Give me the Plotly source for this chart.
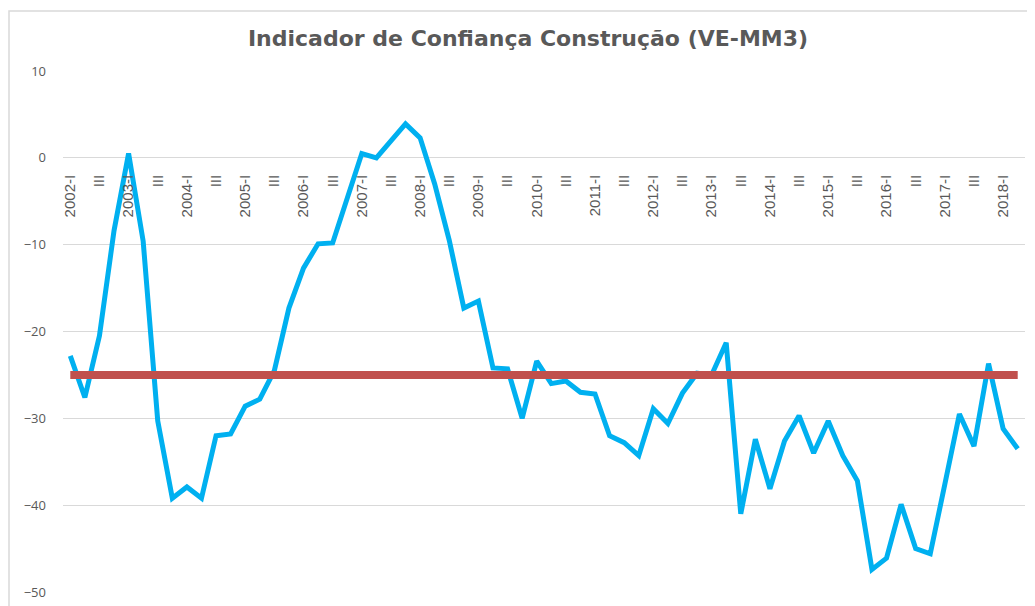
import plotly.graph_objects as go

# Trimestres 2002-I a 2018-II
anos = list(range(2002, 2019))
trimestres = ["I", "II", "III", "IV"]
categorias = [f"{a}-{t}" for a in anos for t in trimestres][:66]

# Indicador de Confiança Construção (VE-MM3)
indicador = [
    -22.8, -27.6, -20.5, -8.4, 0.5, -9.6, -30.3, -39.2, -37.9, -39.2,
    -32.0, -31.8, -28.6, -27.8, -24.5, -17.3, -12.7, -9.9, -9.8, -4.6,
    0.5, 0.0, 2.0, 3.9, 2.3, -3.0, -9.5, -17.3, -16.5, -24.2,
    -24.3, -30.0, -23.4, -26.0, -25.7, -27.0, -27.2, -32.0, -32.8, -34.3,
    -28.9, -30.6, -27.1, -24.8, -25.0, -21.3, -41.0, -32.4, -38.1, -32.6,
    -29.7, -34.0, -30.3, -34.3, -37.2, -47.4, -46.1, -39.9, -45.0, -45.6,
    -37.6, -29.5, -33.2, -23.7, -31.2, -33.5,
]

# Média de longo prazo
media = [-25] * len(categorias)

# Rótulos do eixo: só I e III
tick_vals = [c for c in categorias if c.endswith("-I") or c.endswith("-III")]
tick_text = [c if c.endswith("-I") else "III" for c in tick_vals]

cinza = "#595959"
grade = "#D9D9D9"

fig = go.Figure()

fig.add_trace(go.Scatter(
    x=categorias, y=indicador, mode="lines",
    line=dict(color="#00B0F0", width=5),
    showlegend=False,
))
# linha da média por cima, como no Excel
fig.add_trace(go.Scatter(
    x=categorias, y=media, mode="lines",
    line=dict(color="#C0504D", width=8),
    showlegend=False, hoverinfo="skip",
))

# a página tem 8px de margem no body
fig.update_layout(
    width=1027,
    height=598,
    margin=dict(l=55, r=10, t=63, b=14, autoexpand=False),
    paper_bgcolor="white",
    plot_bgcolor="white",
    title=dict(
        text="<b>Indicador de Confiança Construção (VE-MM3)</b>",
        xref="container", x=520 / 1027, xanchor="center",
        yref="container", y=1 - 30 / 598, yanchor="middle",
        font=dict(family="DejaVu Sans", size=22, color=cinza),
    ),
    xaxis=dict(
        type="category",
        range=[-0.5, 65.5],
        tickmode="array",
        tickvals=tick_vals,
        ticktext=tick_text,
        tickangle=-90,
        ticks="",
        ticklabelstandoff=13,
        tickfont=dict(family="Liberation Sans", size=15, color=cinza),
        showgrid=False,
        showline=False,
        zeroline=False,
        automargin=False,
        anchor="free",
        position=50 / 60,
    ),
    yaxis=dict(
        range=[-50, 10],
        dtick=10,
        showgrid=True,
        gridcolor=grade,
        gridwidth=1,
        zeroline=True,
        zerolinecolor=grade,
        zerolinewidth=1,
        ticks="",
        automargin=False,
        ticklabelstandoff=16,
        tickfont=dict(family="Open Sans", size=13, color=cinza),
    ),
    shapes=[
        dict(
            type="rect", xref="paper", yref="paper",
            x0=(1 - 55) / 962, x1=1.3, y0=-0.5, y1=(584 - 3) / 521,
            line=dict(color="#D9D9D9", width=1.5),
            fillcolor="rgba(0,0,0,0)", layer="below",
        )
    ],
)

fig.write_html("out.html")
